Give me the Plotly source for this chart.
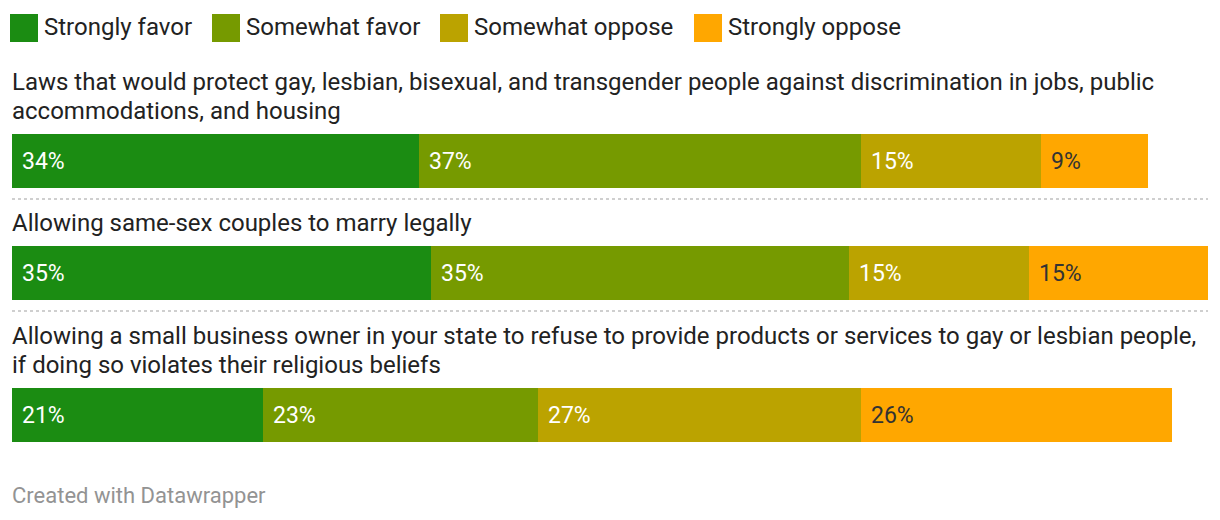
import plotly.graph_objects as go

# ---------------- data ----------------
categories = ["Strongly favor", "Somewhat favor", "Somewhat oppose", "Strongly oppose"]
questions = [
    "Laws that would protect gay, lesbian, bisexual, and transgender people against discrimination in jobs, public<br>accommodations, and housing",
    "Allowing same-sex couples to marry legally",
    "Allowing a small business owner in your state to refuse to provide products or services to gay or lesbian people,<br>if doing so violates their religious beliefs",
]
strongly_favor = [34, 35, 21]
somewhat_favor = [37, 35, 23]
somewhat_oppose = [15, 15, 27]
strongly_oppose = [9, 15, 26]
series = [strongly_favor, somewhat_favor, somewhat_oppose, strongly_oppose]

# ---------------- style / layout ----------------
W, H = 1220, 520
colors = ["#1b8c12", "#769a00", "#bba300", "#ffa700"]
label_colors = ["#ffffff", "#ffffff", "#ffffff", "#333333"]
FONT = "Roboto"
bar_tops = [134, 246, 388]
bar_h = 54
bar_centers = [t + bar_h / 2 for t in bar_tops]
x_left, x_right = 12, 1208
text_pad = 2  # annotation inner padding compensation
legend_sq_x = [10, 212, 440, 694]
legend_sq = 28
legend_y0 = 14

fig = go.Figure()
for name, vals, col in zip(categories, series, colors):
    fig.add_trace(go.Bar(
        x=vals, y=bar_centers, orientation="h", width=bar_h, name=name,
        marker=dict(color=col, line=dict(width=0)),
        hoverinfo="skip", showlegend=False,
    ))

annotations = []
shapes = []

# bar value labels
for i in range(len(questions)):
    base = 0
    for k, vals in enumerate(series):
        v = vals[i]
        annotations.append(dict(
            x=base, y=bar_centers[i], xref="x", yref="y", text=f"{v}%",
            xanchor="left", yanchor="middle", xshift=8, showarrow=False,
            font=dict(family=FONT, size=23, color=label_colors[k]),
        ))
        base += v

# question titles (one annotation per line)
for i, q in enumerate(questions):
    lines = q.split("<br>")
    n = len(lines)
    for j, line in enumerate(lines):
        yc = bar_tops[i] - 23 - (n - 1 - j) * 29
        annotations.append(dict(
            x=(x_left - text_pad) / W, y=yc, xref="paper", yref="y", text=line,
            xanchor="left", yanchor="middle", showarrow=False,
            font=dict(family=FONT, size=24, color="#222222"),
        ))

# dotted separators
for i in range(len(questions) - 1):
    ys = bar_tops[i] + bar_h + 11
    shapes.append(dict(
        type="line", xref="paper", yref="y", x0=x_left / W, x1=x_right / W,
        y0=ys, y1=ys, line=dict(color="#cfcfcf", width=2, dash="dot"),
    ))

# legend
for k, name in enumerate(categories):
    sx = legend_sq_x[k]
    shapes.append(dict(
        type="rect", xref="paper", yref="y",
        x0=sx / W, x1=(sx + legend_sq) / W, y0=legend_y0, y1=legend_y0 + legend_sq,
        fillcolor=colors[k], line=dict(width=0),
    ))
    annotations.append(dict(
        x=(sx + legend_sq + 4) / W, y=legend_y0 + legend_sq / 2 - 1.5, xref="paper", yref="y",
        text=name, xanchor="left", yanchor="middle", showarrow=False,
        font=dict(family=FONT, size=24, color="#222222"),
    ))

# footer
annotations.append(dict(
    x=(x_left - text_pad) / W, y=495, xref="paper", yref="y", text="Created with Datawrapper",
    xanchor="left", yanchor="middle", showarrow=False,
    font=dict(family=FONT, size=22, color="#939393"),
))

fig.update_layout(
    width=W, height=H, margin=dict(l=0, r=0, t=0, b=0),
    paper_bgcolor="white", plot_bgcolor="white",
    barmode="stack", bargap=0,
    xaxis=dict(range=[0, 100], domain=[x_left / W, x_right / W], visible=False, fixedrange=True),
    yaxis=dict(range=[H, 0], domain=[0, 1], visible=False, fixedrange=True),
    annotations=annotations, shapes=shapes,
    font=dict(family=FONT),
)

fig.write_html("out.html", config={"displayModeBar": False})
